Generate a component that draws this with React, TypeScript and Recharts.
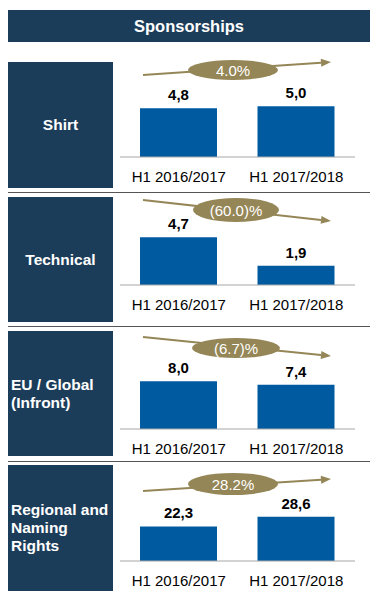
import { BarChart, Bar, XAxis, YAxis, LabelList } from "recharts";

// periods shown under every panel
const PERIODS = ["H1 2016/2017", "H1 2017/2018"];

// one entry per panel
const CATEGORY_LINES = [["Shirt"], ["Technical"], ["EU / Global", "(Infront)"], ["Regional and", "Naming", "Rights"]];
const SHIRT = [4.8, 5.0];
const TECHNICAL = [4.7, 1.9];
const EU_GLOBAL = [8.0, 7.4];
const REGIONAL = [22.3, 28.6];
const GROWTH = ["4.0%", "(60.0)%", "(6.7)%", "28.2%"];

const SERIES = [SHIRT, TECHNICAL, EU_GLOBAL, REGIONAL];

// layout of each panel (box top/height, axis line y, y-domain max)
const BOXES = [
  { top: 62, height: 126, axisY: 157, yMax: 6.9 },
  { top: 197, height: 125, axisY: 285, yMax: 6.9 },
  { top: 331, height: 125, axisY: 429, yMax: 11.7 },
  { top: 465, height: 126, axisY: 561, yMax: 45.2 },
];
// arrow annotation, y offsets from box top
const ARROWS = [
  { y1: 13, y2: 0, cx: 233, cy: 8, rx: 45, ry: 10 },
  { y1: 3, y2: 24, cx: 236, cy: 13, rx: 43, ry: 12 },
  { y1: 6, y2: 25, cx: 236, cy: 17, rx: 44, ry: 10 },
  { y1: 26, y2: 14, cx: 233, cy: 19, rx: 45, ry: 11 },
];

const NAVY = "#1c3d5a";
const BLUE = "#005aa0";
const GOLD = "#958657";
const FONT = "Arial, 'Liberation Sans', Helvetica, sans-serif";

const CHART_W = 235;
const CHART_H = 130;
const AXIS_H = 30;
const TOP_M = 30;

const fmt = (v: any) => Number(v).toFixed(1).replace(".", ",");

function Arrow({ idx }: { idx: number }) {
  const a = ARROWS[idx];
  const top = BOXES[idx].top;
  const x1 = 143;
  const x2 = 331;
  const y1 = top + a.y1;
  const y2 = top + a.y2;
  const ang = Math.atan2(y2 - y1, x2 - x1);
  const len = 10;
  const w = 4;
  const bx = x2 - len * Math.cos(ang);
  const by = y2 - len * Math.sin(ang);
  const px = -Math.sin(ang) * w;
  const py = Math.cos(ang) * w;
  const cy = top + a.cy;
  return (
    <g>
      <line x1={x1} y1={y1} x2={bx} y2={by} stroke={GOLD} strokeWidth={2} />
      <polygon points={`${x2},${y2} ${bx + px},${by + py} ${bx - px},${by - py}`} fill={GOLD} />
      <ellipse cx={a.cx} cy={cy} rx={a.rx} ry={a.ry} fill={GOLD} />
      <text x={a.cx} y={cy + 5.5} textAnchor="middle" fill="#fff" fontSize={15} fontFamily={FONT}>
        {GROWTH[idx]}
      </text>
    </g>
  );
}

export default function App() {
  return (
    <div style={{ position: "absolute", left: 0, top: 0, width: 372, height: 607, background: "#fff", fontFamily: FONT }}>
      <div
        style={{
          position: "absolute", left: 8, top: 10, width: 362, height: 32, background: NAVY,
          color: "#fff", fontWeight: "bold", fontSize: 16.5, display: "flex", alignItems: "center", justifyContent: "center",
        }}
      >
        Sponsorships
      </div>

      {[192, 326, 461].map((y) => (
        <div key={y} style={{ position: "absolute", left: 8, top: y, width: 362, height: 1, background: "#555" }} />
      ))}

      {BOXES.map((b, i) => {
        const lines = CATEGORY_LINES[i];
        const multi = lines.length > 1;
        return (
          <div
            key={"box" + i}
            style={{
              position: "absolute", left: 8, top: b.top, width: 105, height: b.height, background: NAVY,
              color: "#fff", fontWeight: "bold", fontSize: 15.5, lineHeight: "18px",
              display: "flex", flexDirection: "column", justifyContent: "center",
              alignItems: multi ? "flex-start" : "center", paddingLeft: multi ? 3 : 0, boxSizing: "border-box",
            }}
          >
            {lines.map((l) => (
              <div key={l} style={{ whiteSpace: "nowrap" }}>{l}</div>
            ))}
          </div>
        );
      })}

      {BOXES.map((b, i) => {
        const data = PERIODS.map((p, j) => ({ period: p, value: SERIES[i][j] }));
        return (
          <div key={"chart" + i} style={{ position: "absolute", left: 120, top: b.axisY - (CHART_H - AXIS_H) }}>
            <BarChart width={CHART_W} height={CHART_H} data={data} margin={{ top: TOP_M, right: 0, bottom: 0, left: 0 }}>
              <XAxis
                dataKey="period"
                height={AXIS_H}
                tickLine={false}
                tickSize={0}
                tickMargin={14}
                axisLine={{ stroke: "#a6a6a6", strokeWidth: 1 }}
                tick={{ fill: "#000", fontSize: 15, fontFamily: FONT }}
                interval={0}
              />
              <YAxis hide domain={[0, b.yMax]} />
              <Bar dataKey="value" fill={BLUE} barSize={77} isAnimationActive={false}>
                <LabelList
                  dataKey="value"
                  position="top"
                  offset={8}
                  formatter={fmt}
                  fill="#000"
                  fontSize={15}
                  fontWeight="bold"
                  fontFamily={FONT}
                />
              </Bar>
            </BarChart>
          </div>
        );
      })}

      <svg width={372} height={607} style={{ position: "absolute", left: 0, top: 0, pointerEvents: "none" }}>
        {ARROWS.map((_, i) => (
          <Arrow key={i} idx={i} />
        ))}
      </svg>
    </div>
  );
}
